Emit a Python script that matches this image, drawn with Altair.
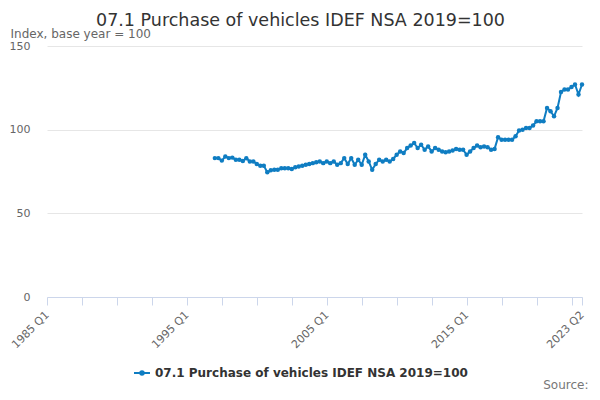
import altair as alt
import pandas as pd

title_text = "07.1 Purchase of vehicles IDEF NSA 2019=100"
series_name = "07.1 Purchase of vehicles IDEF NSA 2019=100"
y_title = "Index, base year = 100"
source_text = "Source:"

quarters = [f"{y} Q{q}" for y in range(1985, 2024) for q in range(1, 5)][:154]
start_quarter = "1997 Q1"
values = [
    83, 83, 81.5, 84,        # 1997
    83, 83.3, 82, 82,        # 1998
    81.3, 82.9, 81, 81,      # 1999
    79.5, 78.5, 78.5, 74.5,  # 2000
    75.7, 76, 76, 77,        # 2001
    77, 77, 76.5, 77.5,      # 2002
    78, 78.5, 79, 79.5,      # 2003
    80, 80.5, 81, 80,        # 2004
    81, 80, 81, 79,          # 2005
    80, 83, 79.5, 83,        # 2006
    79, 82, 79, 85,          # 2007
    81, 76, 79.5, 82,        # 2008
    81, 82, 81, 82.5,        # 2009
    85, 87, 86, 89,          # 2010
    90.5, 92, 89, 91,        # 2011
    88, 90, 87, 89,          # 2012
    88, 87, 86.5, 87,        # 2013
    87.5, 88.5, 88, 88,      # 2014
    85, 87, 89, 90.5,        # 2015
    89.5, 90, 89.5, 88,      # 2016
    88.5, 95.5, 94, 94,      # 2017
    94, 94, 96, 99.5,        # 2018
    100, 101, 101, 102.5,    # 2019
    105, 105, 105, 113,      # 2020
    111, 108, 113, 122.5,    # 2021
    124, 124, 125.5, 127,    # 2022
    121, 127,                # 2023
]
shown_labels = ["1985 Q1", "1995 Q1", "2005 Q1", "2015 Q1", "2023 Q2"]
tick_quarters = quarters[::10] + ["2023 Q2"]
y_ticks = [0, 50, 100, 150]

s = quarters.index(start_quarter)
df = pd.DataFrame({
    "quarter": quarters[s:s + len(values)],
    "value": values,
    "series": series_name,
})

color = "#0f7dc2"
font = "DejaVu Sans"
label_list = ",".join(f"'{l}'" for l in shown_labels)

chart = alt.Chart(df).mark_line(
    strokeWidth=2,
    point=alt.OverlayMarkDef(size=20, filled=True, opacity=1),
).encode(
    x=alt.X(
        "quarter:O",
        sort=quarters,
        scale=alt.Scale(domain=quarters, padding=0),
        axis=alt.Axis(
            values=tick_quarters,
            labelExpr=f"indexof([{label_list}], datum.value) >= 0 ? datum.value : ''",
            labelAngle=-45,
            labelAlign="right",
            labelBaseline="middle",
            labelOverlap=False,
            labelColor="#666666",
            labelFontSize=11,
            labelFont=font,
            labelPadding=8,
            domainColor="#ccd6eb",
            tickColor="#ccd6eb",
            tickSize=8,
            grid=False,
            title=source_text,
            titleX=541,
            titleY=91,
            titleAlign="right",
            titleBaseline="alphabetic",
            titleAngle=0,
            titleFontWeight="normal",
            titleFontSize=12,
            titleFont=font,
            titleColor="#777777",
        ),
    ),
    y=alt.Y(
        "value:Q",
        scale=alt.Scale(domain=[0, 150], nice=False),
        axis=alt.Axis(
            values=y_ticks,
            domain=False,
            ticks=False,
            gridColor="#e6e6e6",
            labelColor="#666666",
            labelFontSize=11,
            labelFont=font,
            labelPadding=17,
            title=y_title,
            titleAngle=0,
            titleAlign="left",
            titleBaseline="alphabetic",
            titleX=-37,
            titleY=-9,
            titleFontWeight="normal",
            titleFontSize=12,
            titleFont=font,
            titleColor="#666666",
        ),
    ),
    color=alt.Color(
        "series:N",
        scale=alt.Scale(range=[color]),
        legend=alt.Legend(
            orient="none",
            legendX=86,
            legendY=318,
            title=None,
            symbolType="M-1,0L1,0M0.22,0A0.22,0.22,0,1,1,-0.22,0A0.22,0.22,0,1,1,0.22,0",
            symbolSize=256,
            symbolStrokeWidth=2,
            symbolFillColor=color,
            symbolStrokeColor=color,
            labelFontWeight="bold",
            labelFontSize=12,
            labelFont=font,
            labelColor="#333333",
            labelLimit=0,
        ),
    ),
).properties(
    width=535,
    height=251,
    title=alt.TitleParams(
        title_text,
        fontSize=17.5,
        font=font,
        fontWeight="normal",
        color="#333333",
        anchor="middle",
        dx=-14,
        offset=-2,
    ),
    autosize=alt.AutoSizeParams(type="none"),
    padding={"left": 39, "top": 38, "right": 10, "bottom": 95},
).configure_view(stroke=None)

chart.save("out.html", embed_options={"renderer": "svg", "actions": False})
